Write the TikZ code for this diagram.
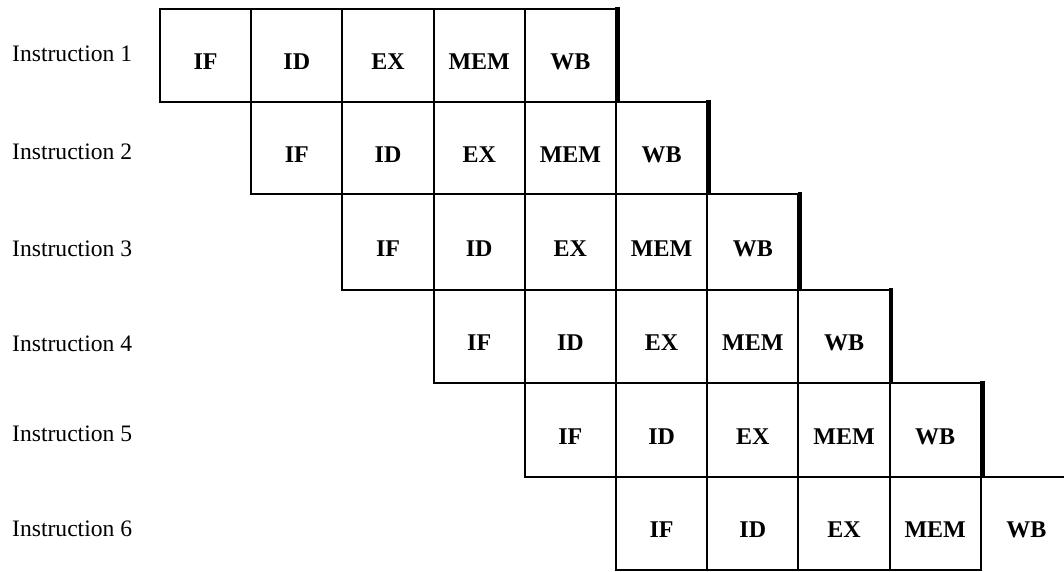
\documentclass[tikz,border=0pt]{standalone}
\usepackage{fontspec}
\setmainfont{Liberation Serif}
\begin{document}
\begin{tikzpicture}[x=1pt,y=-1pt,
  cell/.style={draw, line width=2pt, minimum width=91.2pt, inner sep=0pt, outer sep=0pt,
    text height=30pt, text depth=2pt, font=\fontsize{24}{28}\selectfont\bfseries},
  wbedge/.style={line width=4.5pt},
  rule/.style={line width=2pt},
  lab/.style={inner sep=0pt, font=\fontsize{23.6}{28}\selectfont}]
\useasboundingbox (0,0) rectangle (1064,571);
% rows 1-5
\foreach \r/\yt/\yb in {1/9/102, 2/102/194, 3/194/290, 4/290/383, 5/383/477}{
  \pgfmathsetmacro\hh{\yb-\yt}
  \foreach \s [count=\c] in {IF,ID,EX,MEM,WB}{
    \pgfmathsetmacro\xl{160+91.2*(\r+\c-2)}
    \node[cell, minimum height=\hh pt, anchor=north west] (n-\r-\c) at (\xl,\yt) {\s};
  }
  \draw[wbedge] ([xshift=1.5pt,yshift=2pt]n-\r-5.north east) -- ([xshift=1.5pt,yshift=-1pt]n-\r-5.south east);
}
% row 6
\foreach \s [count=\c] in {IF,ID,EX,MEM}{
  \pgfmathsetmacro\xl{160+91.2*(\c+4)}
  \node[cell, minimum height=93pt, anchor=north west] (n-6-\c) at (\xl,477) {\s};
}
\node[cell, draw=none, minimum height=93pt, anchor=north west] (n-6-5) at (980.8,477) {WB};
\coordinate (r6end) at (1064,477);
\draw[rule] (n-6-5.north west) -- (r6end);
% labels
\foreach \r/\yb in {1/61, 2/159.3, 3/256.5, 4/351.7, 5/441, 6/536}{
  \node[lab, anchor=base west] (lab-\r) at (12,\yb) {Instruction \r};
}
\end{tikzpicture}
\end{document}
